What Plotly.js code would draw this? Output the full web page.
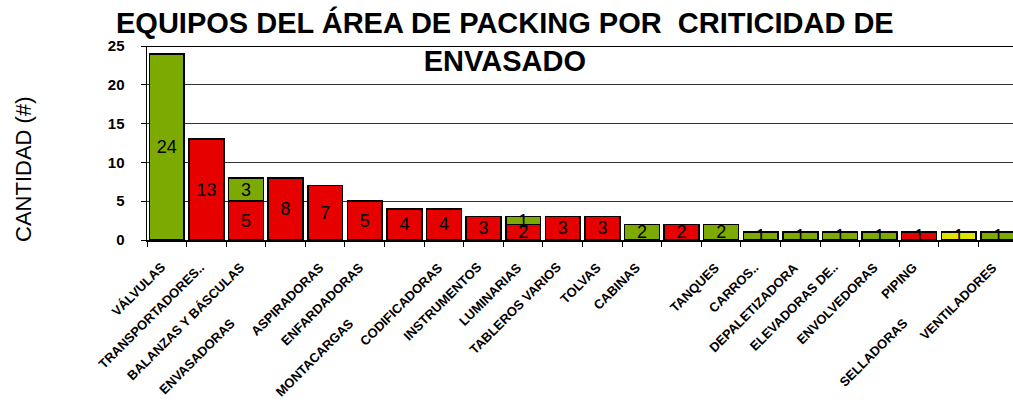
<!DOCTYPE html>
<html><head><meta charset="utf-8">
<script src="https://cdn.plot.ly/plotly-3.0.1.min.js"></script>
<style>html,body{margin:0;padding:0;background:#fff}</style>
</head><body><div id="chart" style="width:1013px;height:411px"></div>
<script>
// ---- data ----
const categories = ["VÁLVULAS","TRANSPORTADORES..","BALANZAS Y BÁSCULAS","ENVASADORAS","ASPIRADORAS","ENFARDADORAS","MONTACARGAS","CODIFICADORAS","INSTRUMENTOS","LUMINARIAS","TABLEROS VARIOS","TOLVAS","CABINAS"," ","TANQUES","CARROS..","DEPALETIZADORA","ELEVADORAS DE..","ENVOLVEDORAS","PIPING","SELLADORAS","VENTILADORES"];
const redValues    = [null,13,5,8,7,5,4,4,3,2,3,3,null,2,null,null,null,null,null,1,null,null];
const yellowValues = [null,null,null,null,null,null,null,null,null,null,null,null,null,null,null,null,null,null,null,null,1,null];
const greenValues  = [24,null,3,null,null,null,null,null,null,1,null,null,2,null,2,1,1,1,1,null,null,1];
const titleText = "EQUIPOS DEL ÁREA DE PACKING POR  CRITICIDAD DE<br>ENVASADO";
const yTitle = "CANTIDAD (#)";

// ---- style ----
const FONT = "Liberation Sans, Arial, sans-serif";
const loweredLabels = new Set(["ENVASADORAS","MONTACARGAS","SELLADORAS"]);

function barTrace(vals, color){
  return {
    type:'bar', x:categories, y:vals,
    text: vals.map(v => v == null ? '' : String(v)),
    textposition:'inside', insidetextanchor:'middle', constraintext:'none', textangle:0,
    textfont:{family:FONT, size:18, color:'#000'},
    marker:{color:color, line:{color:'#000', width:1.5}},
    hoverinfo:'x+y', showlegend:false
  };
}
const traces = [
  barTrace(redValues,'#e60000'),
  barTrace(yellowValues,'#e2e200'),
  barTrace(greenValues,'#7daa00')
];

const annotations = categories.filter(c => c.trim() !== '').map(c => {
  const low = loweredLabels.has(c);
  return {
    x:c, xref:'x', y:0, yref:'paper', xanchor:'right', yanchor:'top',
    text:c, showarrow:false, textangle:-45,
    xshift: low ? -45 : 4, yshift: low ? -73 : -17,
    font:{family:FONT, size:13, color:'#000', weight:'bold'}
  };
});
annotations.push({
  text:yTitle, xref:'paper', yref:'paper', x:-0.142, y:0.361, xanchor:'center', yanchor:'middle',
  textangle:-90, showarrow:false, font:{family:FONT, size:22, color:'#000'}
});
annotations.push({
  text:titleText, xref:'paper', yref:'paper', x:(505-147)/866, y:1+42/194, xanchor:'center', yanchor:'top',
  showarrow:false, font:{family:FONT, size:29, color:'#000', weight:'bold'}
});

const layout = {
  width:1013, height:411,
  margin:{l:147, r:0, t:46, b:171},
  paper_bgcolor:'#fff', plot_bgcolor:'#fff',
  barmode:'stack', bargap:0.12,
  xaxis:{type:'category', range:[-0.5, 21.37], showline:true, linecolor:'#000', linewidth:1.5,
         ticks:'outside', tickson:'boundaries', ticklen:5, tickcolor:'#000', showticklabels:false,
         showgrid:false, fixedrange:true},
  yaxis:{range:[0,25], dtick:5, tick0:0, showline:true, linecolor:'#000', linewidth:1.5,
         ticks:'outside', ticklen:5, tickcolor:'#000', ticklabelstandoff:13,
         tickfont:{family:FONT, size:15, color:'#000', weight:'bold'},
         showgrid:true, gridcolor:'#333', gridwidth:1.2, zeroline:false, fixedrange:true},
  shapes:[{type:'line', xref:'paper', yref:'y', x0:0, x1:1, y0:25, y1:25, line:{color:'#000', width:2}}],
  annotations:annotations
};
Plotly.newPlot('chart', traces, layout, {displayModeBar:false, staticPlot:true});
</script></body></html>
